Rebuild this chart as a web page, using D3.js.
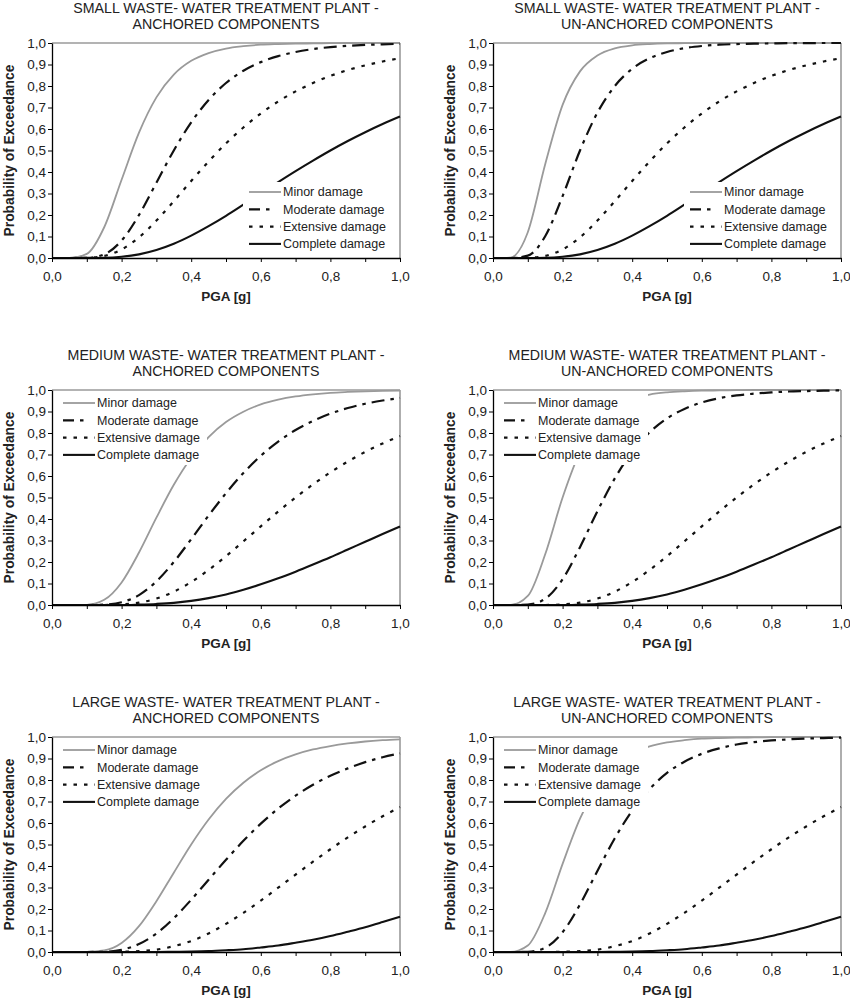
<!DOCTYPE html>
<html>
<head>
<meta charset="utf-8">
<script src="https://cdn.jsdelivr.net/npm/d3@7"></script>
<style>
  body { margin: 0; background: #fff; }
  text { font-family: "Liberation Sans", Arial, sans-serif; fill: #222; }
</style>
</head>
<body>
<svg id="chart"></svg>
<script>
// PGA grid [g]
const pga = [0, 0.05, 0.1, 0.15, 0.2, 0.25, 0.3, 0.35, 0.4, 0.45, 0.5, 0.55, 0.6, 0.65, 0.7, 0.75, 0.8, 0.85, 0.9, 0.95, 1.0];

// small plant
const smallMinorAnch = [0, 0, 0.019, 0.143, 0.364, 0.583, 0.747, 0.853, 0.917, 0.953, 0.974, 0.985, 0.992, 0.995, 0.997, 0.998, 0.999, 1.0, 1.0, 1.0, 1.0];
const smallModerateAnch = [0, 0, 0.001, 0.017, 0.081, 0.200, 0.350, 0.500, 0.631, 0.735, 0.814, 0.871, 0.911, 0.939, 0.958, 0.972, 0.981, 0.987, 0.991, 0.994, 0.996];
const smallMinorUnanch = [0, 0.002, 0.120, 0.436, 0.712, 0.868, 0.942, 0.975, 0.989, 0.995, 0.998, 0.999, 1.0, 1.0, 1.0, 1.0, 1.0, 1.0, 1.0, 1.0, 1.0];
const smallModerateUnanch = [0, 0, 0.011, 0.101, 0.288, 0.500, 0.676, 0.800, 0.880, 0.929, 0.958, 0.976, 0.986, 0.992, 0.995, 0.997, 0.998, 0.999, 0.999, 1.0, 1.0];
const smallExtensive = [0, 0, 0.001, 0.010, 0.040, 0.096, 0.174, 0.264, 0.358, 0.449, 0.533, 0.607, 0.672, 0.728, 0.775, 0.814, 0.847, 0.874, 0.896, 0.914, 0.929];
const smallComplete = [0, 0, 0, 0.001, 0.006, 0.017, 0.037, 0.066, 0.104, 0.148, 0.196, 0.248, 0.301, 0.353, 0.404, 0.453, 0.500, 0.544, 0.585, 0.623, 0.658];

// medium plant
const mediumMinorAnch = [0, 0, 0.001, 0.024, 0.105, 0.244, 0.406, 0.559, 0.685, 0.781, 0.851, 0.899, 0.933, 0.955, 0.970, 0.980, 0.987, 0.991, 0.994, 0.996, 0.997];
const mediumModerateAnch = [0, 0, 0, 0.002, 0.013, 0.046, 0.110, 0.200, 0.306, 0.416, 0.520, 0.614, 0.694, 0.760, 0.814, 0.856, 0.890, 0.916, 0.936, 0.951, 0.963];
const mediumMinorUnanch = [0, 0, 0.042, 0.236, 0.500, 0.712, 0.845, 0.919, 0.958, 0.979, 0.989, 0.994, 0.997, 0.998, 0.999, 1.0, 1.0, 1.0, 1.0, 1.0, 1.0];
const mediumModerateUnanch = [0, 0, 0.002, 0.029, 0.120, 0.269, 0.436, 0.589, 0.712, 0.803, 0.868, 0.912, 0.942, 0.962, 0.975, 0.983, 0.989, 0.993, 0.995, 0.997, 0.998];
const mediumExtensive = [0, 0, 0, 0, 0.003, 0.011, 0.030, 0.062, 0.107, 0.163, 0.227, 0.296, 0.366, 0.435, 0.500, 0.561, 0.617, 0.667, 0.712, 0.751, 0.786];
const mediumComplete = [0, 0, 0, 0, 0, 0.002, 0.005, 0.010, 0.019, 0.032, 0.049, 0.071, 0.096, 0.124, 0.155, 0.188, 0.222, 0.258, 0.294, 0.330, 0.365];

// large plant
const largeMinorAnch = [0, 0, 0, 0.007, 0.042, 0.120, 0.236, 0.369, 0.500, 0.616, 0.712, 0.787, 0.845, 0.888, 0.919, 0.942, 0.958, 0.970, 0.979, 0.985, 0.989];
const largeModerateAnch = [0, 0, 0, 0.001, 0.010, 0.037, 0.086, 0.157, 0.243, 0.336, 0.429, 0.517, 0.597, 0.667, 0.727, 0.778, 0.820, 0.854, 0.883, 0.906, 0.924];
const largeMinorUnanch = [0, 0, 0.030, 0.181, 0.410, 0.620, 0.770, 0.866, 0.923, 0.956, 0.975, 0.985, 0.992, 0.995, 0.997, 0.998, 0.999, 0.999, 1.0, 1.0, 1.0];
const largeModerateUnanch = [0, 0, 0.001, 0.020, 0.092, 0.221, 0.377, 0.529, 0.658, 0.758, 0.833, 0.885, 0.922, 0.947, 0.965, 0.976, 0.984, 0.989, 0.993, 0.995, 0.997];
const largeExtensive = [0, 0, 0, 0, 0.001, 0.004, 0.011, 0.027, 0.051, 0.086, 0.131, 0.182, 0.239, 0.299, 0.360, 0.420, 0.478, 0.533, 0.584, 0.631, 0.674];
const largeComplete = [0, 0, 0, 0, 0, 0, 0, 0.001, 0.002, 0.004, 0.008, 0.013, 0.021, 0.030, 0.043, 0.057, 0.074, 0.094, 0.115, 0.139, 0.164];

const damageStates = ['Minor damage', 'Moderate damage', 'Extensive damage', 'Complete damage'];
const xTicks = [0, 0.1, 0.2, 0.3, 0.4, 0.5, 0.6, 0.7, 0.8, 0.9, 1.0];
const yTicks = [0, 0.1, 0.2, 0.3, 0.4, 0.5, 0.6, 0.7, 0.8, 0.9, 1.0];

const panels = [
    { title: ['SMALL WASTE- WATER TREATMENT PLANT -', 'ANCHORED COMPONENTS'], curves: [smallMinorAnch, smallModerateAnch, smallExtensive, smallComplete], legend: 'br' },
    { title: ['SMALL WASTE- WATER TREATMENT PLANT -', 'UN-ANCHORED COMPONENTS'], curves: [smallMinorUnanch, smallModerateUnanch, smallExtensive, smallComplete], legend: 'br' },
    { title: ['MEDIUM WASTE- WATER TREATMENT PLANT -', 'ANCHORED COMPONENTS'], curves: [mediumMinorAnch, mediumModerateAnch, mediumExtensive, mediumComplete], legend: 'tl' },
    { title: ['MEDIUM WASTE- WATER TREATMENT PLANT -', 'UN-ANCHORED COMPONENTS'], curves: [mediumMinorUnanch, mediumModerateUnanch, mediumExtensive, mediumComplete], legend: 'tl' },
    { title: ['LARGE WASTE- WATER TREATMENT PLANT -', 'ANCHORED COMPONENTS'], curves: [largeMinorAnch, largeModerateAnch, largeExtensive, largeComplete], legend: 'tl' },
    { title: ['LARGE WASTE- WATER TREATMENT PLANT -', 'UN-ANCHORED COMPONENTS'], curves: [largeMinorUnanch, largeModerateUnanch, largeExtensive, largeComplete], legend: 'tl' }
];

// line styles per damage state
const styles = [
    { stroke: '#9a9a9a', width: 1.8, dash: null },
    { stroke: '#111', width: 2.2, dash: '13,6,3.5,6' },
    { stroke: '#111', width: 2.2, dash: '3.5,7' },
    { stroke: '#111', width: 2.1, dash: null }
];

const W = 850, H = 999;
const colX = [52, 493];
const rowY = [43, 390, 737];
const pw = 348, ph = 215;

const svg = d3.select('#chart').attr('width', W).attr('height', H);

const fmt = d => d.toFixed(1).replace('.', ',');

panels.forEach((p, i) => {
    const r = Math.floor(i / 2), c = i % 2;
    const g = svg.append('g').attr('transform', `translate(${colX[c]}, ${rowY[r]})`);

    const x = d3.scaleLinear().domain([0, 1]).range([0, pw]);
    const y = d3.scaleLinear().domain([0, 1]).range([ph, 0]);

    // gray frame top / right
    g.append('line').attr('x1', 0).attr('x2', pw).attr('y1', y(1)).attr('y2', y(1))
        .attr('stroke', '#9a9a9a').attr('stroke-width', 1.6);
    g.append('line').attr('x1', pw).attr('x2', pw).attr('y1', 0).attr('y2', ph)
        .attr('stroke', '#9a9a9a').attr('stroke-width', 1.6);

    const line = d3.line()
        .x((d, k) => x(pga[k]))
        .y(d => y(d))
        .curve(d3.curveMonotoneX);

    p.curves.forEach((vals, k) => {
        g.append('path')
            .datum(vals)
            .attr('fill', 'none')
            .attr('stroke', styles[k].stroke)
            .attr('stroke-width', styles[k].width)
            .attr('stroke-dasharray', styles[k].dash)
            .attr('d', line);
    });

    // legend
    let bx, by, bw, bh, ry0;
    if (p.legend === 'br') {
        bw = 157; bh = 70; bx = pw - bw; by = 139; ry0 = by + 10;
    } else {
        bw = 155; bh = 74; bx = 1; by = 1; ry0 = 13;
    }
    const lg = g.append('g');
    lg.append('rect').attr('x', bx).attr('y', by).attr('width', bw - 1).attr('height', bh).attr('fill', '#fff');
    damageStates.forEach((name, k) => {
        const yy = ry0 + k * 17.3;
        const lx = p.legend === 'br' ? bx + 6 : 11;
        lg.append('line')
            .attr('x1', lx).attr('x2', lx + 32).attr('y1', yy).attr('y2', yy)
            .attr('stroke', styles[k].stroke)
            .attr('stroke-width', styles[k].width)
            .attr('stroke-dasharray', k === 1 ? '11,6,3.5,20' : styles[k].dash);
        lg.append('text')
            .attr('x', lx + 34).attr('y', yy).attr('dy', '0.35em')
            .style('font-size', '12.5px')
            .text(name);
    });

    // axes
    const ya = g.append('g')
        .call(d3.axisLeft(y).tickValues(yTicks).tickFormat(fmt).tickSize(4).tickSizeOuter(0).tickPadding(2));
    const xa = g.append('g')
        .attr('transform', `translate(0, ${ph})`)
        .call(d3.axisBottom(x).tickValues(xTicks).tickFormat((d, k) => k % 2 === 0 ? fmt(d) : '').tickSize(4).tickSizeOuter(0).tickPadding(9));
    [ya, xa].forEach(a => {
        a.selectAll('text').style('font-size', '13.5px').style('font-family', '"Liberation Sans", Arial, sans-serif').attr('fill', '#222');
        a.select('.domain').attr('stroke', '#000').attr('stroke-width', 1.3);
        a.selectAll('.tick line').attr('stroke', '#000');
    });

    // titles
    p.title.forEach((t, k) => {
        g.append('text')
            .attr('x', pw / 2).attr('y', k === 0 ? -30 : -14)
            .attr('text-anchor', 'middle')
            .style('font-size', '14.2px')
            .text(t);
    });

    g.append('text')
        .attr('transform', `translate(-43, ${ph / 2}) rotate(-90)`)
        .attr('dy', '0.35em')
        .attr('text-anchor', 'middle')
        .style('font-size', '13.8px').style('font-weight', 'bold')
        .text('Probability of Exceedance');

    g.append('text')
        .attr('x', pw / 2).attr('y', ph + 43)
        .attr('text-anchor', 'middle')
        .style('font-size', '13.5px').style('font-weight', 'bold')
        .text('PGA [g]');
});
</script>
</body>
</html>
